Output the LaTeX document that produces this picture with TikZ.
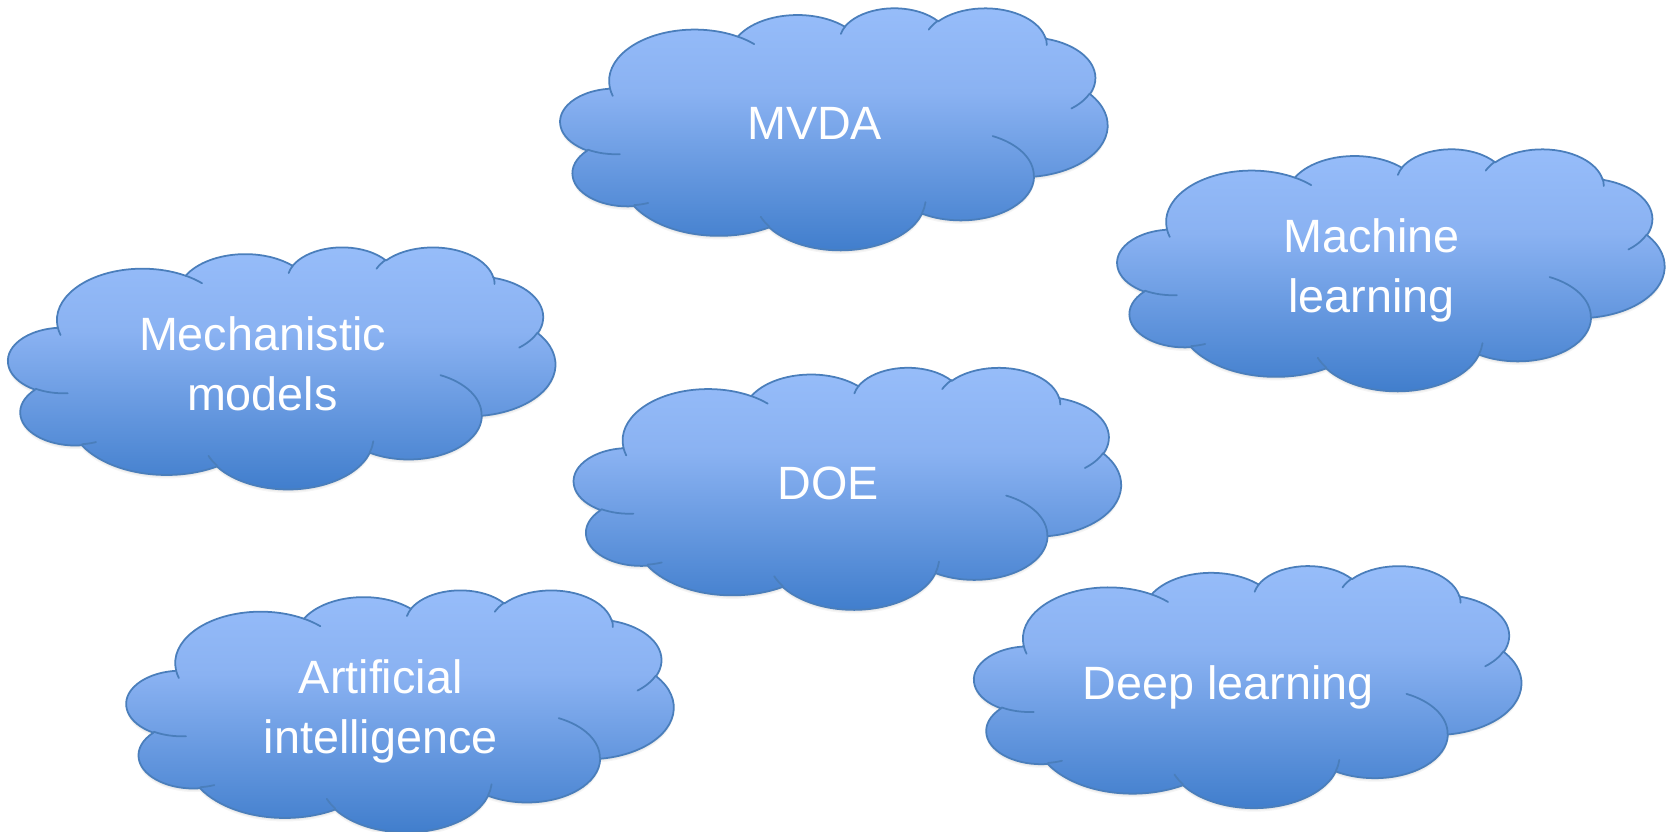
\documentclass[tikz,border=0pt]{standalone}
\usepackage{fontspec}
\setmainfont{Liberation Sans}
\definecolor{ctop}{RGB}{151,189,250}
\definecolor{cmid}{RGB}{138,178,242}
\definecolor{cbot}{RGB}{62,124,203}
\definecolor{cline}{RGB}{74,126,187}
\pgfdeclareverticalshading{cloudshade}{100bp}{color(0bp)=(cbot); color(25bp)=(cbot); color(57.5bp)=(cmid); color(75bp)=(ctop); color(100bp)=(ctop)}
% parametric angle of an ellipse point given its visual angle
\newcommand\pang[3]{((#3)+atan(((#1)-(#2))*sin(#3)*cos(#3)/((#2)*cos(#3)*cos(#3)+(#1)*sin(#3)*sin(#3))))}
\newcommand\carc[4]{arc[x radius=#1/10, y radius=#2/10, start angle={\pang{#1}{#2}{#3}}, end angle={\pang{#1}{#2}{#3+#4}}]}
\newcommand\cloudpath{(0.3900,1.4370)
 \carc{6.753}{9.190}{-190.4875}{123.7805}
 \carc{5.333}{7.267}{-144.1024}{89.9452}
 \carc{4.365}{5.945}{-145.8079}{99.7230}
 \carc{4.857}{6.595}{-130.9861}{117.2417}
 \carc{5.333}{7.273}{-78.7089}{109.0269}
 \carc{6.775}{9.220}{-46.2673}{130.2690}
 \carc{5.785}{7.867}{0.6250}{114.0333}
 \carc{6.752}{9.215}{22.4516}{115.1726}
 \carc{7.720}{10.543}{66.2426}{75.7110}
 \carc{4.360}{5.918}{-274.9421}{146.7356}
 \carc{4.345}{5.945}{-246.8285}{152.5189}
 -- cycle}
\newcommand\cloudlines{(0.4693,2.6177) \carc{4.345}{5.945}{86.7420}{26.4295}
 (0.6928,3.4899) \carc{4.360}{5.918}{73.6105}{11.4475}
 (1.6478,3.9090) \carc{6.752}{9.215}{137.6242}{14.0811}
 (2.8827,3.4751) \carc{6.752}{9.215}{6.4533}{15.9984}
 (3.4129,2.2954) \carc{5.785}{7.867}{-70.2924}{70.9174}
 (4.1798,1.5354) \carc{5.333}{7.273}{30.3180}{27.7515}
 (3.8324,0.5426) \carc{4.857}{6.595}{-13.7443}{14.8589}
 (2.9078,0.3952) \carc{4.857}{6.595}{-149.1815}{18.1954}
 (2.2141,0.4720) \carc{4.365}{5.945}{-163.4943}{17.6864}
 (1.4000,0.5192) \carc{6.753}{9.190}{-66.7070}{12.3194}
 (0.4127,1.5789) \carc{6.753}{9.190}{157.6544}{11.8582}}
\tikzset{
  cpos/.style 2 args={shift={(#1,-(#2))}, xscale=1.266204, yscale=-0.560185},
  cloudbody/.style={shading=cloudshade, draw=cline, line width=0.5pt, line join=round},
  cloudline/.style={draw=cline, line width=0.5pt, line cap=round},
  cloudshadow/.style={fill=black, opacity=0.04},
  cloudtext/.style={text=white, font=\fontsize{13.3}{16.9}\selectfont, align=center, inner sep=0pt, outer sep=0pt, anchor=north}
}
% #1 name, #2 left (cm), #3 top (cm, downwards), #4 text, #5 extra lines
\newcommand\drawcloud[5]{%
  \begin{scope}[cpos={#2}{#3+0.035}] \path[cloudshadow] \cloudpath; \end{scope}
  \begin{scope}[cpos={#2}{#3+0.022}] \path[cloudshadow] \cloudpath; \end{scope}
  \begin{scope}[cpos={#2}{#3+0.01}] \path[cloudshadow] \cloudpath; \end{scope}
  \begin{scope}[cpos={#2}{#3}]
    \path[cloudbody] \cloudpath;
    \draw[cloudline] \cloudlines;
  \end{scope}
  \node[cloudtext] (#1) at ({#2+2.541},{0.167+0.2965*#5-(#3)-1.167}) {#4};
}
\begin{document}
\begin{tikzpicture}
\useasboundingbox (0,0) rectangle (16.73,-8.32);
\fill[white] (0,0) rectangle (16.73,-8.32);
\drawcloud{mvda}{5.605}{0.075}{MVDA}{0}
\drawcloud{ml}{11.175}{1.485}{Machine\\learning}{1}
\drawcloud{mech}{0.083}{2.466}{Mechanistic\\models}{1}
\drawcloud{doe}{5.74}{3.67}{DOE}{0}
\drawcloud{ai}{1.266}{5.896}{Artificial\\intelligence}{1}
\drawcloud{deep}{9.743}{5.653}{Deep learning}{0}
\end{tikzpicture}
\end{document}
